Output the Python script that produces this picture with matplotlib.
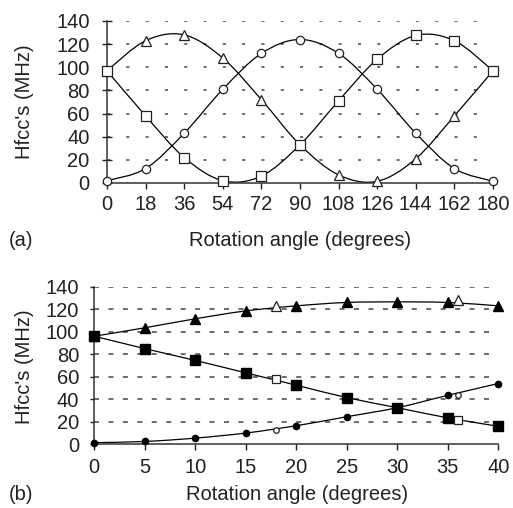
import numpy as np
import matplotlib
matplotlib.use("Agg")
import matplotlib.pyplot as plt
from matplotlib.path import Path
from matplotlib.patches import PathPatch

plt.rcParams['font.family'] = ['Liberation Sans', 'DejaVu Sans']
plt.rcParams['lines.scale_dashes'] = False

# --- (a) data, full rotation 0..180 deg ---
angle_a = [0, 18, 36, 54, 72, 90, 108, 126, 144, 162, 180]
tri_a = [97, 123, 128, 108, 72, 33, 7, 1.5, 21, 58, 97]
circ_a = [2, 12.5, 43, 81, 112, 124, 112, 81, 43, 12.5, 1.5]
sq_a = [97, 58, 22, 2, 6, 33, 71, 107, 127.5, 123, 97]

# --- (b) data, 0..40 deg ---
angle_b = [0, 5, 10, 15, 20, 25, 30, 35, 40]
tri_b = [96, 103.5, 111.5, 118.5, 123, 126, 126.5, 126, 123]
sq_b = [96, 85, 74.5, 63.5, 52.5, 41.5, 32.5, 23.5, 16]
circ_b = [1.5, 2.5, 5.5, 10, 16.5, 24.5, 32.5, 43.5, 54]
# open symbols in (b), taken from (a) at 18 and 36 deg
angle_b_open = [18, 36]
tri_b_open = [123, 128]
sq_b_open = [58, 22]
circ_b_open = [13, 44]

yticks = [0, 20, 40, 60, 80, 100, 120, 140]


def smooth_line(ax, x, y):
    # Excel-style smoothed line: cubic bezier through the points
    pts = np.column_stack([x, y]).astype(float)
    n = len(pts)
    verts = [pts[0]]
    codes = [Path.MOVETO]
    for i in range(n - 1):
        p0 = pts[max(i - 1, 0)]
        p1 = pts[i]
        p2 = pts[i + 1]
        p3 = pts[min(i + 2, n - 1)]
        c1 = p1 + (p2 - p0) / 6.0
        c2 = p2 - (p3 - p1) / 6.0
        verts += [c1, c2, p2]
        codes += [Path.CURVE4] * 3
    patch = PathPatch(Path(verts, codes), facecolor='none', edgecolor='black',
                      lw=0.9, transform=ax.transData, zorder=2)
    ax.add_patch(patch)


def style_axes(ax, xmax, xticks, dash):
    ax.set_xlim(0, xmax)
    ax.set_ylim(0, 140)
    ax.set_xticks(xticks)
    ax.set_yticks(yticks)
    for s in ['top', 'right']:
        ax.spines[s].set_visible(False)
    for s in ['left', 'bottom']:
        ax.spines[s].set_color('#333333')
        ax.spines[s].set_linewidth(1.1)
    ax.tick_params(labelsize=14.5, colors='#222222', width=1, length=4)
    for y in yticks[1:]:
        ax.axhline(y, color='#444444', lw=1.1, linestyle=(0, dash), zorder=1)


fig = plt.figure(figsize=(5.13, 5.08), dpi=100)

# ---------- panel (a) ----------
ax1 = fig.add_axes([107 / 513, 1 - 183 / 508, 386 / 513, 162 / 508])
style_axes(ax1, 180, angle_a, (2.2, 11.7))
ax1.tick_params(axis='y', direction='inout', length=7, pad=9)
ax1.tick_params(axis='x', pad=5)
for yv, m, ms in [(tri_a, '^', 7), (circ_a, 'o', 6), (sq_a, 's', 6.5)]:
    smooth_line(ax1, angle_a, yv)
    ax1.plot(angle_a, yv, linestyle='none', marker=m, ms=ms, mfc='white',
             mec='#222222', mew=0.9, clip_on=False, zorder=3)

# ---------- panel (b) ----------
ax2 = fig.add_axes([94.3 / 513, 1 - 444.3 / 508, 404 / 513, 157.6 / 508])
style_axes(ax2, 40, list(range(0, 41, 5)), (3.6, 6.8))
ax2.tick_params(axis='y', length=3, pad=8)
ax2.tick_params(axis='x', length=4, pad=6)
for yv, m, ms in [(tri_b, '^', 7), (sq_b, 's', 7.5), (circ_b, 'o', 4.5)]:
    smooth_line(ax2, angle_b, yv)
    ax2.plot(angle_b, yv, linestyle='none', marker=m, ms=ms, mfc='black',
             mec='black', clip_on=False, zorder=3)
for yv, m, ms in [(tri_b_open, '^', 7), (sq_b_open, 's', 6), (circ_b_open, 'o', 4)]:
    ax2.plot(angle_b_open, yv, linestyle='none', marker=m, ms=ms, mfc='white',
             mec='#222222', mew=0.9, clip_on=False, zorder=3)

# ---------- labels ----------
fs = 14.5
fig.text(300 / 513, 1 - 241 / 508, "Rotation angle (degrees)", ha='center', va='center', fontsize=fs, color='#222222')
fig.text(297 / 513, 1 - 494 / 508, "Rotation angle (degrees)", ha='center', va='center', fontsize=fs, color='#222222')
fig.text(9 / 513, 1 - 241 / 508, "(a)", ha='left', va='center', fontsize=fs, color='#222222')
fig.text(9 / 513, 1 - 494 / 508, "(b)", ha='left', va='center', fontsize=fs, color='#222222')
fig.text(24 / 513, 1 - 102 / 508, "Hfcc's (MHz)", rotation=90, ha='center', va='center', fontsize=fs, color='#222222')
fig.text(24 / 513, 1 - 367 / 508, "Hfcc's (MHz)", rotation=90, ha='center', va='center', fontsize=fs, color='#222222')

fig.savefig("out.png", dpi=100)
